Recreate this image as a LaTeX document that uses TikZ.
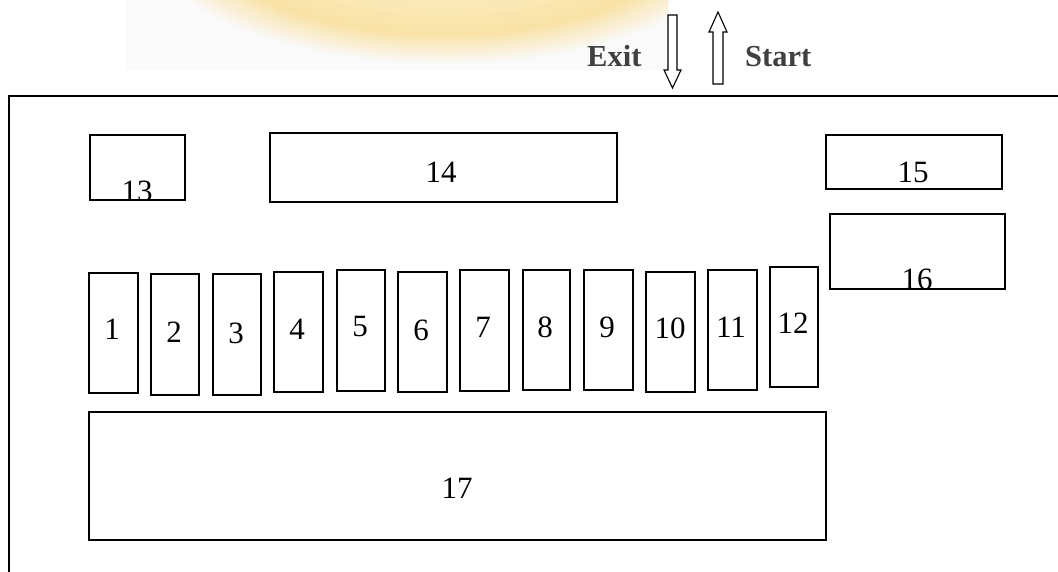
\documentclass[tikz,border=0pt]{standalone}
\usepackage{fontspec}
\setmainfont{Liberation Serif}
\definecolor{bgg}{HTML}{FAFAFA}
\definecolor{blobA}{HTML}{FEF4D4}
\definecolor{blobC}{HTML}{F9E2A6}
\definecolor{labgray}{HTML}{404040}
\tikzset{
  box/.style={draw, line width=1.6pt, inner sep=0pt, anchor=north west},
  num/.style={font=\fontsize{31}{31}\selectfont, inner sep=0pt},
  lab/.style={font=\fontsize{30.5}{30.5}\selectfont\bfseries, text=labgray, inner sep=0pt, anchor=base west},
  blockarrow/.style={draw, line width=1.1pt, fill=white, line join=miter}
}
\begin{document}
\begin{tikzpicture}[x=1pt,y=-1pt]
\useasboundingbox (0,0) rectangle (1058,572);
% faded background picture
\begin{scope}
  \clip (125,0) rectangle (668,70);
  \fill[bgg] (125,0) rectangle (668,70);
  \foreach \i in {0,...,24} {
    \pgfmathsetmacro\rx{305-2.4*\i}
    \pgfmathsetmacro\ry{135-1.2*\i}
    \pgfmathtruncatemacro\p{4*\i}
    \fill[blobC!\p!bgg] (445,-70) ellipse [x radius=\rx, y radius=\ry];
  }
  \foreach \i in {0,...,20} {
    \pgfmathsetmacro\rx{245-9*\i}
    \pgfmathsetmacro\ry{106-4*\i}
    \pgfmathtruncatemacro\p{5*\i}
    \fill[blobA!\p!blobC] (445,-70) ellipse [x radius=\rx, y radius=\ry];
  }
\end{scope}
% outer wall
\draw[line width=1.8pt] (9,572) -- (9,96) -- (1058,96);
% entrance arrows
\draw[blockarrow] (668,15) -- (677,15) -- (677,70) -- (681,70) -- (672.5,88) -- (664,70) -- (668,70) -- cycle;
\draw[blockarrow] (713,84) -- (723,84) -- (723,32) -- (727,32) -- (718,12) -- (709,32) -- (713,32) -- cycle;
\node[lab] (exit) at (587,67) {Exit};
\node[lab] (start) at (745,67) {Start};
% boxes
\node[box, minimum width=49, minimum height=120] (b1) at (88,272) {};
\node[box, minimum width=48, minimum height=121] (b2) at (150,273) {};
\node[box, minimum width=48, minimum height=121] (b3) at (212,273) {};
\node[box, minimum width=49, minimum height=120] (b4) at (273,271) {};
\node[box, minimum width=48, minimum height=121] (b5) at (336,269) {};
\node[box, minimum width=49, minimum height=120] (b6) at (397,271) {};
\node[box, minimum width=49, minimum height=121] (b7) at (459,269) {};
\node[box, minimum width=47, minimum height=120] (b8) at (522,269) {};
\node[box, minimum width=49, minimum height=120] (b9) at (583,269) {};
\node[box, minimum width=49, minimum height=120] (b10) at (645,271) {};
\node[box, minimum width=49, minimum height=120] (b11) at (707,269) {};
\node[box, minimum width=48, minimum height=120] (b12) at (769,266) {};
\node[box, minimum width=95, minimum height=65] (b13) at (89,134) {};
\node[box, minimum width=347, minimum height=69] (b14) at (269,132) {};
\node[box, minimum width=176, minimum height=54] (b15) at (825,134) {};
\node[box, minimum width=175, minimum height=75] (b16) at (829,213) {};
\node[box, minimum width=737, minimum height=128] (b17) at (88,411) {};
% labels
\node[num] (t1) at (112,329) {1};
\node[num] (t2) at (174,332) {2};
\node[num] (t3) at (236,333) {3};
\node[num] (t4) at (297,329) {4};
\node[num] (t5) at (360,327) {5};
\node[num] (t6) at (421,330) {6};
\node[num] (t7) at (483,327) {7};
\node[num] (t8) at (545,327) {8};
\node[num] (t9) at (607,327) {9};
\node[num] (t10) at (670,328) {10};
\node[num] (t11) at (731,327) {11};
\node[num] (t12) at (793,323) {12};
\begin{scope}
  \clip (b13.south west) rectangle (b13.north east);
  \node[num, anchor=base] (t13) at (137,202) {13};
\end{scope}
\node[num] (t14) at (441,172) {14};
\node[num] (t15) at (913,172) {15};
\begin{scope}
  \clip (b16.south west) rectangle (b16.north east);
  \node[num, anchor=base] (t16) at (917,290) {16};
\end{scope}
\node[num] (t17) at (457,488) {17};
\end{tikzpicture}
\end{document}
